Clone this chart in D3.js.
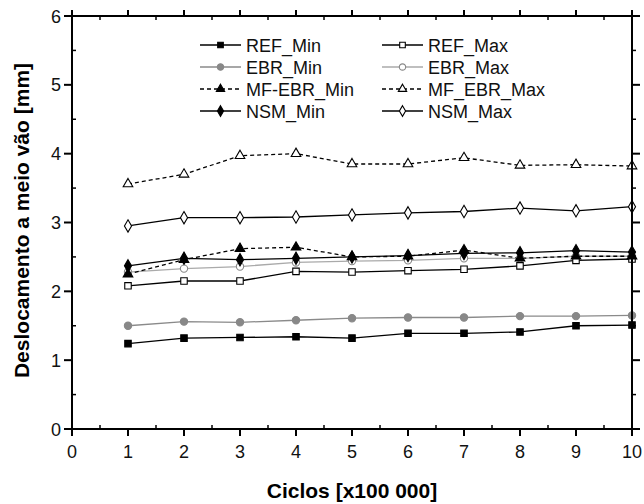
<!DOCTYPE html>
<html><head><meta charset="utf-8">
<script src="https://cdn.jsdelivr.net/npm/d3@7"></script>
<style>body{margin:0;background:#fff}</style>
</head><body><svg id="c" width="644" height="504" font-family="Liberation Sans, Arial, Helvetica, sans-serif"></svg>
<script>
const cycles = [1,2,3,4,5,6,7,8,9,10];
const REF_Min    = [1.24,1.32,1.33,1.34,1.32,1.39,1.39,1.41,1.50,1.51];
const REF_Max    = [2.08,2.15,2.15,2.29,2.28,2.30,2.32,2.37,2.45,2.47];
const EBR_Min    = [1.50,1.56,1.55,1.58,1.61,1.62,1.62,1.64,1.64,1.65];
const EBR_Max    = [2.28,2.33,2.36,2.42,2.44,2.45,2.48,2.48,2.51,2.51];
const MFEBR_Min  = [2.25,2.46,2.62,2.64,2.50,2.51,2.60,2.48,2.51,2.51];
const MFEBR_Max  = [3.56,3.70,3.97,4.00,3.85,3.85,3.94,3.83,3.84,3.82];
const NSM_Min    = [2.37,2.48,2.46,2.48,2.50,2.52,2.55,2.56,2.59,2.57];
const NSM_Max    = [2.95,3.07,3.07,3.08,3.11,3.14,3.16,3.21,3.17,3.23];
const xTicks = [0,1,2,3,4,5,6,7,8,9,10];
const yTicks = [0,1,2,3,4,5,6];
const seriesNames = ["REF_Min","REF_Max","EBR_Min","EBR_Max","MF-EBR_Min","MF_EBR_Max","NSM_Min","NSM_Max"];

const series = [
  {name:seriesNames[0], v:REF_Min,   sym:d3.symbolSquare,  size:42, fill:"#000", stroke:"#000", line:"#000", dash:null},
  {name:seriesNames[1], v:REF_Max,   sym:d3.symbolSquare,  size:42, fill:"#fff", stroke:"#000", line:"#000", dash:null},
  {name:seriesNames[2], v:EBR_Min,   sym:d3.symbolCircle,  size:42, fill:"#888", stroke:"#888", line:"#8a8a8a", dash:null},
  {name:seriesNames[3], v:EBR_Max,   sym:d3.symbolCircle,  size:42, fill:"#fff", stroke:"#888", line:"#aaa", dash:null},
  {name:seriesNames[4], v:MFEBR_Min, sym:d3.symbolTriangle,size:40, fill:"#000", stroke:"#000", line:"#000", dash:"4,3"},
  {name:seriesNames[5], v:MFEBR_Max, sym:d3.symbolTriangle,size:40, fill:"#fff", stroke:"#000", line:"#000", dash:"4,3"},
  {name:seriesNames[6], v:NSM_Min,   sym:d3.symbolDiamond, size:44, fill:"#000", stroke:"#000", line:"#000", dash:null},
  {name:seriesNames[7], v:NSM_Max,   sym:d3.symbolDiamond, size:44, fill:"#fff", stroke:"#000", line:"#000", dash:null}
];

const L=72, R=632, T=16, B=429;
const svg = d3.select("#c");
const x = d3.scaleLinear().domain([0,10]).range([L,R]);
const y = d3.scaleLinear().domain([0,6]).range([B,T]);

const line = d3.line().x((d,i)=>x(cycles[i])).y(d=>y(d));
const order=[3,2,1,0,5,4,7,6];
order.forEach(k=>{
  const s=series[k];
  svg.append("path").attr("d",line(s.v)).attr("fill","none").attr("stroke",s.line)
    .attr("stroke-width",1.3).attr("stroke-dasharray",s.dash);
});
order.forEach(k=>{
  const s=series[k];
  svg.append("g").selectAll("path").data(s.v).join("path")
    .attr("transform",(d,i)=>`translate(${x(cycles[i])},${y(d)})`)
    .attr("d",d3.symbol().type(s.sym).size(s.size))
    .attr("fill",s.fill).attr("stroke",s.stroke).attr("stroke-width",1.1);
});

const minorX = d3.range(0.5,10,1);
const minorY = d3.range(0.5,6,1);
const ax = svg.append("g").attr("stroke","#000");
ax.append("rect").attr("x",L).attr("y",T).attr("width",R-L).attr("height",B-T)
  .attr("fill","none").attr("stroke-width",2);
ax.selectAll(".bx").data(xTicks).join("line").attr("x1",d=>x(d)).attr("x2",d=>x(d)).attr("y1",B).attr("y2",B+7).attr("stroke-width",2);
ax.selectAll(".bm").data(minorX).join("line").attr("x1",d=>x(d)).attr("x2",d=>x(d)).attr("y1",B).attr("y2",B-4).attr("stroke-width",1.5);
ax.selectAll(".tx").data(xTicks).join("line").attr("x1",d=>x(d)).attr("x2",d=>x(d)).attr("y1",T).attr("y2",T-6).attr("stroke-width",2);
ax.selectAll(".tm").data(minorX).join("line").attr("x1",d=>x(d)).attr("x2",d=>x(d)).attr("y1",T).attr("y2",T+4).attr("stroke-width",1.5);
ax.selectAll(".ly").data(yTicks).join("line").attr("x1",L).attr("x2",L-8).attr("y1",d=>y(d)).attr("y2",d=>y(d)).attr("stroke-width",2);
ax.selectAll(".lm").data(minorY).join("line").attr("x1",L).attr("x2",L+4).attr("y1",d=>y(d)).attr("y2",d=>y(d)).attr("stroke-width",1.5);
ax.selectAll(".ry").data(yTicks).join("line").attr("x1",R).attr("x2",R+8).attr("y1",d=>y(d)).attr("y2",d=>y(d)).attr("stroke-width",2);
ax.selectAll(".rm").data(minorY).join("line").attr("x1",R).attr("x2",R+4).attr("y1",d=>y(d)).attr("y2",d=>y(d)).attr("stroke-width",1.5);

svg.append("g").selectAll("text").data(xTicks).join("text")
  .attr("x",d=>x(d)).attr("y",B+29).attr("text-anchor","middle").attr("font-size",18).attr("fill","#111").text(d=>d);
svg.append("g").selectAll("text").data(yTicks).join("text")
  .attr("x",L-11).attr("y",d=>y(d)+6.5).attr("text-anchor","end").attr("font-size",18).attr("fill","#111").text(d=>d);

svg.append("text").attr("x",(L+R)/2).attr("y",498).attr("text-anchor","middle")
  .attr("font-size",21).attr("font-weight","bold").text("Ciclos [x100 000]");
svg.append("text").attr("transform",`translate(29,${(T+B)/2-2}) rotate(-90)`).attr("text-anchor","middle")
  .attr("font-size",21).attr("font-weight","bold").text("Deslocamento a meio vão [mm]");

const leg = svg.append("g");
series.forEach((s,i)=>{
  const col=i%2, row=Math.floor(i/2);
  const lx = col===0?200:382, ly = 45+row*22;
  const g = leg.append("g").attr("transform",`translate(${lx},${ly})`);
  g.append("line").attr("x1",0).attr("x2",41).attr("y1",0).attr("y2",0)
    .attr("stroke",s.line).attr("stroke-width",1.3).attr("stroke-dasharray",s.dash);
  g.append("path").attr("transform","translate(20.5,0)").attr("d",d3.symbol().type(s.sym).size(s.size*0.75))
    .attr("fill",s.fill).attr("stroke",s.stroke).attr("stroke-width",1.1);
  g.append("text").attr("x",46).attr("y",6.5).attr("font-size",18).attr("fill","#111").text(s.name);
});
</script></body></html>
